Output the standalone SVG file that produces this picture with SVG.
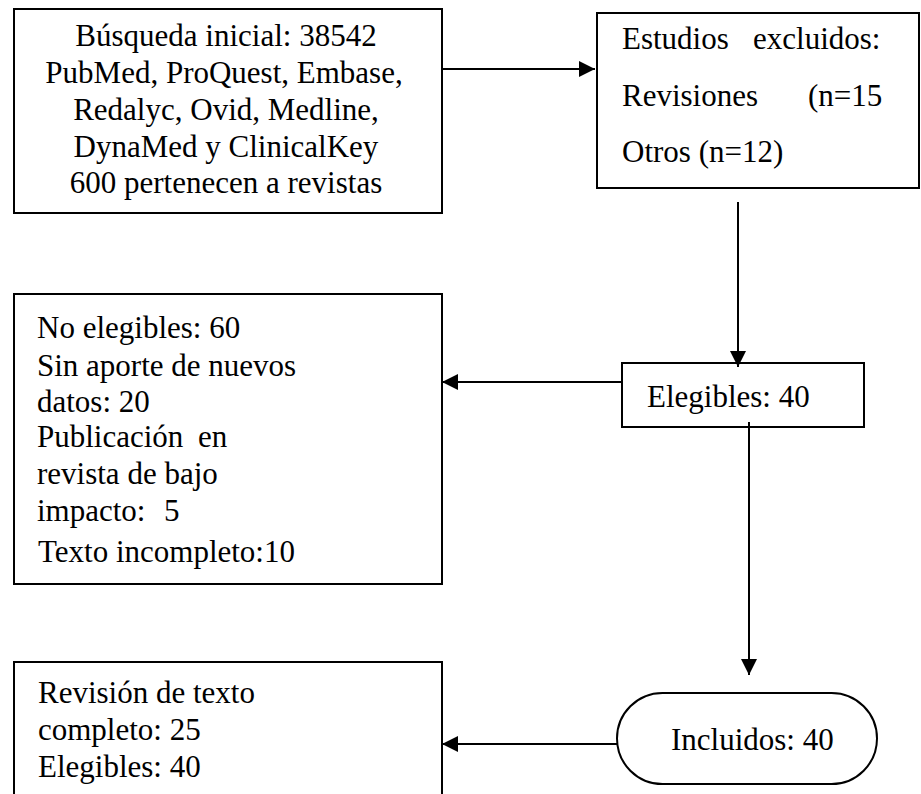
<svg xmlns="http://www.w3.org/2000/svg" width="921" height="794" viewBox="0 0 921 794">
<style>
.box{fill:#fff;stroke:#000;stroke-width:2}
.t{font-family:"Liberation Serif","Times New Roman",serif;font-size:31px;fill:#000}
.c{text-anchor:middle}
.conn{fill:none;stroke:#000;stroke-width:2}
</style>
<defs>
<marker id="arr" markerUnits="userSpaceOnUse" markerWidth="16" markerHeight="16" refX="16" refY="8" orient="auto">
<path d="M0,0 L16,8 L0,16 z" fill="#000"/>
</marker>
</defs>
<rect width="921" height="794" fill="#fff"/>
<g id="busqueda">
<rect class="box" x="14" y="9" width="428" height="204"/>
<text class="t c" x="226" y="46">Búsqueda inicial: 38542</text>
<text class="t c" x="224" y="83">PubMed, ProQuest, Embase,</text>
<text class="t c" x="226" y="120">Redalyc, Ovid, Medline,</text>
<text class="t c" x="226" y="157">DynaMed  y ClinicalKey</text>
<text class="t c" x="226" y="193">600 pertenecen a revistas</text>
</g>
<g id="excluidos">
<rect class="box" x="597" y="13" width="322" height="175"/>
<text class="t" y="49"><tspan x="622">Estudios</tspan><tspan x="753">excluidos:</tspan></text>
<text class="t" y="106"><tspan x="622">Revisiones</tspan><tspan x="808">(n=15</tspan></text>
<text class="t" x="622" y="162">Otros (n=12)</text>
</g>
<g id="no-elegibles">
<rect class="box" x="14" y="294" width="428" height="290"/>
<text class="t" x="37" y="338">No elegibles:  60</text>
<text class="t" x="37" y="376">Sin aporte de nuevos</text>
<text class="t" x="37" y="412">datos: 20</text>
<text class="t" y="447"><tspan x="37">Publicación</tspan><tspan x="198">en</tspan></text>
<text class="t" x="37" y="484">revista  de bajo</text>
<text class="t" y="521"><tspan x="37">impacto:</tspan><tspan x="164">5</tspan></text>
<text class="t" x="38" y="562">Texto incompleto:10</text>
</g>
<g id="elegibles">
<rect class="box" x="622" y="363" width="242" height="64"/>
<text class="t" x="647" y="407">Elegibles:  40</text>
</g>
<g id="incluidos">
<rect class="box" x="617" y="693" width="260" height="91" rx="45.5" ry="45.5"/>
<text class="t" x="671" y="750">Incluidos:  40</text>
</g>
<g id="revision">
<rect class="box" x="14" y="662" width="428" height="150"/>
<text class="t" x="38" y="703">Revisión  de texto</text>
<text class="t" x="38" y="740">completo:  25</text>
<text class="t" x="38" y="777">Elegibles:  40</text>
</g>
<g id="connectors">
<path class="conn" d="M442,69 H595" marker-end="url(#arr)"/>
<path class="conn" d="M738,202 V367" marker-end="url(#arr)"/>
<path class="conn" d="M622,382 H442" marker-end="url(#arr)"/>
<path class="conn" d="M749,422 V675" marker-end="url(#arr)"/>
<path class="conn" d="M617,744 H442" marker-end="url(#arr)"/>
</g>
</svg>
